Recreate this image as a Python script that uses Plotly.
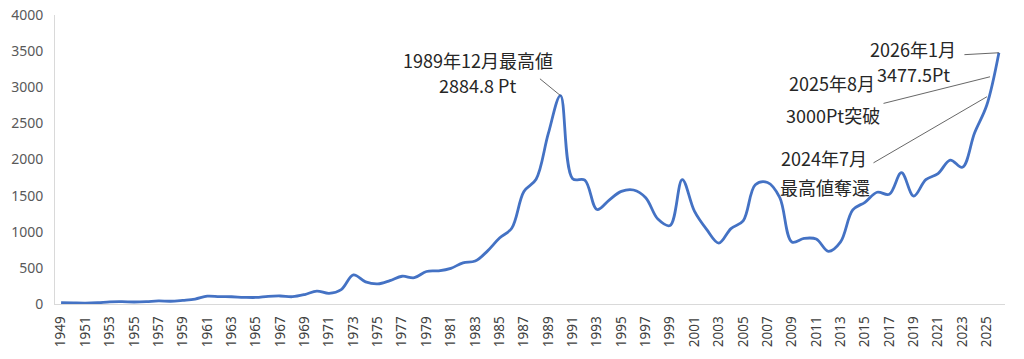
import plotly.graph_objects as go

years = list(range(1949, 2027))
values = [20, 15, 12, 18, 30, 32, 28, 32, 42, 38, 51, 68, 109, 102, 100, 93, 91, 106, 111, 101,
          131, 179, 148, 199, 402, 306, 278, 323, 384, 364, 450, 460, 494, 570, 594, 732, 913, 1049,
          1556, 1726, 2357, 2884.8, 1734, 1715, 1308, 1439, 1559, 1578, 1471, 1175, 1087, 1722, 1284,
          1032, 843, 1044, 1150, 1650, 1681, 1476, 859, 908, 899, 729, 860, 1302, 1408, 1547, 1519,
          1818, 1494, 1721, 1805, 1992, 1892, 2366, 2750, 3477.5]

tick_years = list(range(1949, 2026, 2))
tick_text = [str(y) for y in tick_years]
y_ticks = list(range(0, 4001, 500))

# annotation texts (paper positions) and callout targets
labels = [
    ("1989年12月最高値", 0.445, 0.843),
    ("2884.8 Pt", 0.445, 0.758),
    ("2026年1月", 0.903, 0.882),
    ("3477.5Pt", 0.904, 0.796),
    ("2025年8月", 0.818, 0.765),
    ("3000Pt突破", 0.819, 0.654),
    ("2024年7月", 0.809, 0.505),
    ("最高値奪還", 0.811, 0.405),
]
callouts = [
    (1990, 2884.8, -22, -18),
    (2026, 3477.5, -36, 2),
    (2025.27, 3145, -108, 27),
    (2025.02, 2869, -115, 67),
]

fig = go.Figure()
fig.add_trace(go.Scatter(
    x=years, y=values, mode="lines",
    line=dict(color="#4472C4", width=2.8, shape="spline", smoothing=1.0),
    hoverinfo="x+y", showlegend=False,
))

annotations = []
for text, xp, yp in labels:
    annotations.append(dict(
        text=text, xref="paper", yref="paper", x=xp, y=yp,
        showarrow=False, xanchor="center", yanchor="middle",
        font=dict(family="Noto Sans CJK JP", size=18, color="#262626"),
    ))
for x, y, ax, ay in callouts:
    annotations.append(dict(
        text="", x=x, y=y, xref="x", yref="y", ax=ax, ay=ay,
        showarrow=True, arrowhead=0, arrowwidth=0.8, arrowcolor="#404040",
        standoff=0, startstandoff=0,
    ))

fig.update_layout(
    width=1024, height=359,
    margin=dict(l=55, r=19, t=15, b=55),
    paper_bgcolor="white", plot_bgcolor="white",
    annotations=annotations,
    xaxis=dict(
        range=[1948.5, 2026.5], tickmode="array", tickvals=tick_years, ticktext=tick_text,
        tickangle=-90, showgrid=False, zeroline=False, automargin=False,
        showline=True, linecolor="#d9d9d9", linewidth=1,
        ticks="", ticklabelstandoff=6, ticklabeloverflow="allow",
        tickfont=dict(family="Noto Sans", size=13.5, color="#404040"),
    ),
    yaxis=dict(
        range=[0, 4000], tickmode="array", tickvals=y_ticks,
        showgrid=False, zeroline=False, automargin=False,
        showline=True, linecolor="#d9d9d9", linewidth=1,
        ticks="", ticklabelstandoff=8, ticklabeloverflow="allow",
        tickfont=dict(family="Noto Sans", size=14, color="#595959"),
    ),
)

# remove the default 8px page margin so the 1024x359 figure fills the window exactly
fig.write_html(
    "out.html",
    config={"displayModeBar": False},
    post_script="document.body.style.margin='0';document.body.style.overflow='hidden';",
)
